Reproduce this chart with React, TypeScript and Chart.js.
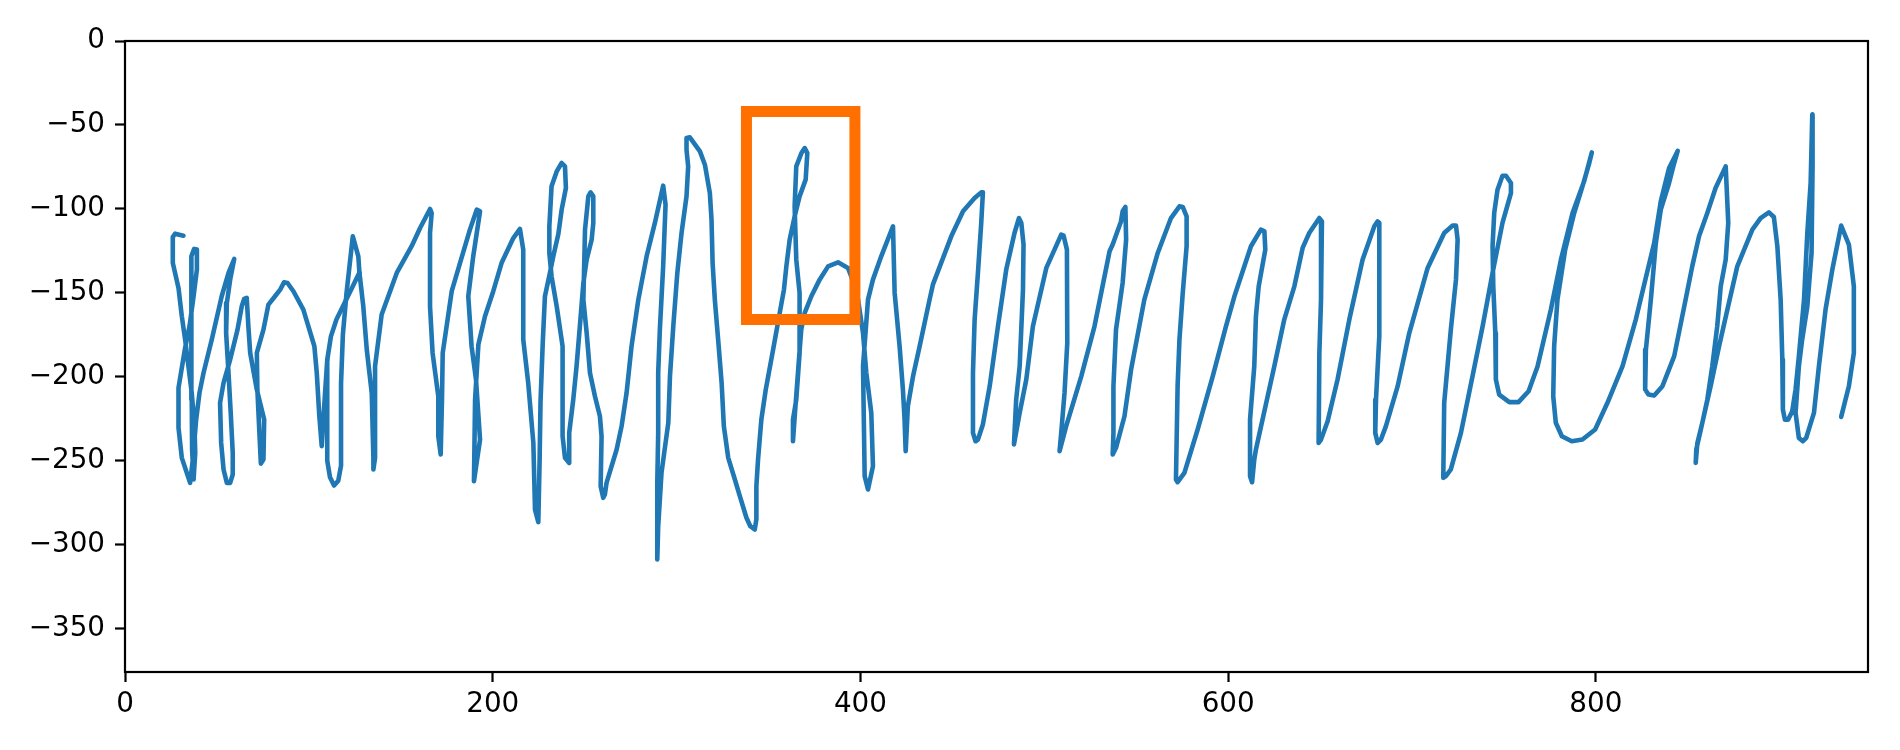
import React, { useEffect, useRef } from "react";
import { Chart, registerables } from "chart.js";

Chart.register(...registerables);

// Axis limits and ticks
const X_MIN = 0;
const X_MAX = 948;
const Y_MIN = -376;
const Y_MAX = 0;
const X_STEP = 200;
const Y_STEP = 50;

// Trajectory as [x, y] pairs, in drawing order
const strokeA: [number, number][] = [
  [31.8, -116.0], [27.3, -114.8], [26.0, -116.8], [26.0, -132.3], [29.1, -147.2], [30.9, -164.0],
  [32.7, -177.9], [34.5, -193.8], [36.3, -209.7], [37.8, -229.5], [38.2, -245.4], [37.3, -261.3],
  [36.5, -243.4], [36.3, -213.7], [36.0, -185.9], [36.0, -154.1], [36.3, -128.3], [37.6, -123.9],
  [39.1, -124.3], [39.1, -136.2], [37.3, -152.1], [35.1, -170.0], [32.7, -182.9], [29.1, -206.7],
  [29.1, -230.5], [30.9, -248.4], [33.6, -257.3], [35.4, -263.3],
  [36.9, -249.4], [38.7, -225.6], [40.5, -209.7], [42.7, -197.8], [47.2, -177.9], [52.6, -152.1],
  [56.3, -138.2], [59.4, -129.9],
  [57.2, -142.2], [55.4, -156.1], [55.0, -174.0], [56.3, -197.8], [57.5, -221.6], [58.6, -245.4],
  [58.6, -258.3], [57.2, -263.3], [55.4, -263.3], [53.6, -255.3], [52.3, -239.5], [51.7, -215.6],
  [53.6, -203.7], [57.2, -189.8], [61.2, -172.0], [63.5, -158.1], [64.8, -153.7], [66.2, -153.1],
  [67.1, -170.0], [68.1, -185.9], [71.7, -207.7], [75.7, -225.6], [75.3, -249.4], [73.9, -251.8],
  [73.1, -233.5], [72.0, -207.7], [71.7, -185.9], [75.3, -172.0], [78.0, -157.1], [81.6, -152.1],
  [84.4, -148.1], [86.5, -143.8], [88.4, -144.2], [91.6, -149.1], [97.0, -160.1], [103.0, -181.9],
  [104.3, -197.8], [105.7, -223.6], [107.0, -241.4],
  [108.5, -215.0], [110.0, -190.0], [110.0, -250.0], [111.5, -260.0], [113.7, -264.9], [116.0, -262.0],
  [117.5, -253.0], [117.5, -204.0], [118.5, -175.0], [120.5, -150.0], [123.9, -116.4], [126.9, -128.3],
  [127.5, -138.0],
];

const strokeB: [number, number][] = [
  [129.6, -158.1], [131.5, -183.9], [134.2, -209.7], [135.1, -248.4], [135.1, -255.3], [136.0, -248.4],
  [136.0, -193.8], [139.6, -163.0], [147.8, -138.2], [155.9, -122.3], [160.5, -111.4], [165.9, -100.1],
  [166.8, -102.5], [165.9, -114.4], [165.9, -158.1], [167.3, -185.9], [170.4, -211.7], [170.4, -235.5],
  [171.7, -246.4], [172.4, -213.7], [172.8, -185.9], [177.7, -149.1], [182.2, -132.3], [187.6, -112.4],
  [191.3, -100.5], [193.1, -101.5], [189.4, -128.3], [186.7, -152.1], [188.5, -181.9], [190.9, -201.7],
  [193.1, -237.5], [189.8, -262.3], [190.4, -213.7], [192.2, -180.9], [195.8, -164.0], [200.3, -149.1],
  [204.8, -132.3], [211.2, -117.4], [214.8, -112.0], [216.6, -124.3], [216.6, -177.9], [219.3, -203.7],
  [222.1, -239.5], [223.0, -279.2], [224.8, -286.7], [225.5, -250.0], [226.0, -215.0], [227.2, -180.0],
  [228.4, -152.1], [231.1, -138.2], [233.0, -128.0], [235.7, -115.0], [237.5, -100.5], [239.8, -87.6],
  [239.3, -74.7], [237.5, -72.7], [234.8, -77.7], [232.0, -86.6], [230.8, -110.4], [230.8, -126.3],
  [232.0, -140.2], [234.8, -158.1], [238.0, -181.9], [238.0, -235.5], [239.3, -248.4], [241.6, -251.4],
  [241.6, -233.5], [243.8, -213.7], [245.6, -193.8], [247.4, -170.0], [249.3, -144.2], [251.1, -130.3],
  [253.8, -118.4], [254.7, -108.4], [254.7, -92.6], [253.2, -90.2], [252.0, -92.6], [250.2, -112.4],
  [249.3, -154.1], [251.1, -174.0], [252.9, -197.8], [255.6, -211.7], [258.3, -223.6], [259.2, -235.5],
  [258.7, -265.3], [260.1, -272.2], [261.0, -270.2], [261.9, -263.3], [267.4, -243.4], [270.1, -229.5],
  [272.8, -209.7], [275.5, -181.9], [279.2, -154.1], [283.7, -128.3], [288.2, -108.4], [292.7, -86.2],
  [294.0, -97.5], [292.7, -134.3], [290.9, -172.0], [290.0, -197.8], [290.0, -233.5], [289.5, -263.3],
  [289.5, -308.9], [290.0, -289.0], [291.8, -257.3], [295.5, -227.5], [296.4, -199.8], [298.2, -170.0],
  [300.4, -138.2], [302.7, -114.4], [305.4, -92.6], [306.3, -74.7], [305.4, -64.8], [305.4, -57.8],
  [307.2, -57.4], [312.7, -65.8], [315.4, -73.7], [318.1, -90.6], [319.0, -106.5], [319.6, -132.3],
  [320.8, -154.1], [322.6, -177.9], [324.5, -203.7], [325.7, -229.5], [328.1, -248.4], [331.7, -261.3],
  [334.4, -271.2],
];

const strokeC: [number, number][] = [
  [338.0, -284.1], [340.1, -289.1], [342.5, -291.1], [343.4, -285.1], [343.4, -265.3], [344.3, -249.4],
  [346.1, -225.6], [348.5, -207.7], [352.5, -183.9], [356.1, -162.0], [358.4, -148.1], [359.7, -134.3],
  [361.5, -118.4], [364.2, -104.5], [366.9, -92.6], [370.2, -82.6], [371.1, -66.8], [369.7, -63.8],
  [367.9, -66.8], [365.1, -74.7], [364.2, -98.5], [365.1, -130.3], [366.9, -150.1], [366.9, -185.9],
  [365.1, -213.7], [363.3, -225.6], [363.3, -238.5], [364.5, -220.0], [366.2, -195.0], [367.8, -172.0],
  [369.7, -162.0], [373.3, -152.1], [377.8, -142.2], [382.4, -134.3], [387.8, -131.9], [393.2, -135.2],
  [395.0, -140.2], [398.7, -154.1], [401.4, -174.0], [403.2, -197.8], [405.9, -221.6], [406.8, -253.4],
  [404.1, -267.2], [402.3, -259.3], [401.4, -193.8], [404.1, -154.1], [406.8, -142.2], [411.3, -128.3],
  [417.7, -110.4], [418.6, -150.1], [421.3, -181.9], [423.1, -207.7], [424.0, -225.6], [424.6, -244.4],
  [425.8, -217.6], [428.6, -199.8], [432.2, -181.9], [437.6, -154.1], [439.4, -145.2], [449.4, -116.4],
  [455.8, -101.5], [462.1, -93.6], [465.7, -90.2], [466.6, -90.2], [465.7, -108.4], [463.9, -138.2],
  [462.1, -166.0], [461.2, -197.8], [461.2, -233.5], [462.6, -238.5], [463.9, -237.5], [466.6, -228.5],
  [470.3, -205.7], [474.8, -170.0], [479.3, -136.2], [483.8, -114.4], [486.2, -105.5], [487.5, -108.4],
  [488.7, -121.3], [488.4, -148.1], [486.6, -193.8], [484.7, -213.7], [483.5, -240.4], [486.6, -221.6],
  [490.2, -201.7], [493.8, -170.0], [501.1, -135.2], [509.2, -115.4], [510.5, -116.0], [512.3, -124.3],
  [512.5, -179.9], [511.0, -209.7], [509.2, -233.5], [508.3, -244.4], [511.9, -229.5], [520.1, -199.8],
  [527.3, -170.0], [535.5, -125.3], [537.2, -121.3], [541.7, -107.5], [542.6, -101.5], [544.1, -98.9],
  [544.5, -118.4], [542.6, -144.2], [539.0, -172.0], [537.6, -205.7], [537.6, -233.5], [537.2, -246.4],
  [539.0, -242.4], [543.6, -223.6], [547.2, -195.8], [554.4, -154.1], [561.7, -126.3], [568.9, -105.5],
  [573.5, -98.5], [575.3, -98.9], [577.4, -104.5], [577.4, -122.3], [575.3, -150.1], [573.5, -177.9],
  [572.5, -205.7], [571.6, -261.3], [572.5, -262.9], [576.2, -257.3], [583.4, -231.5], [591.6, -199.8],
  [598.8, -170.0], [603.4, -152.1], [612.4, -122.3], [617.8, -112.4], [619.7, -113.4], [620.2, -124.3],
  [616.6, -146.2], [615.1, -164.0], [614.2, -193.8], [611.9, -225.6], [611.9, -259.3], [613.0, -262.9],
  [614.2, -249.4], [615.1, -243.4], [625.1, -193.8], [630.5, -166.0], [636.0, -146.2], [640.5, -123.3],
  [644.1, -114.4],
];

const strokeD: [number, number][] = [
  [649.6, -105.5], [651.0, -107.5], [650.5, -154.1], [649.6, -185.9], [649.2, -239.5], [650.5, -237.5],
  [654.1, -226.6], [659.5, -201.7], [665.9, -166.0], [673.1, -130.3], [679.5, -110.4], [681.3, -107.5],
  [682.2, -108.4], [682.2, -175.9], [680.4, -213.7], [680.0, -233.5], [681.3, -239.5], [683.1, -237.5],
  [685.8, -229.5], [692.2, -205.7], [698.5, -174.0], [708.5, -135.2], [717.5, -114.4], [722.1, -110.0],
  [723.9, -110.0], [724.8, -118.4], [723.9, -142.2], [721.1, -172.0], [719.3, -193.8], [717.5, -215.6],
  [717.0, -260.3], [718.4, -259.3], [721.1, -255.3], [726.6, -233.5], [732.9, -199.8], [738.4, -170.0],
  [743.8, -138.2], [749.2, -108.4], [753.8, -90.6], [753.8, -84.6], [751.1, -80.3], [749.2, -80.3],
  [746.5, -88.6], [744.7, -102.5], [743.8, -122.3], [744.2, -146.2], [745.3, -174.0], [745.6, -201.7],
  [747.4, -210.7], [752.9, -215.2], [757.9, -215.2], [763.4, -208.7], [768.3, -193.8], [775.5, -160.1],
  [781.0, -130.3], [787.3, -102.5], [793.6, -83.6], [797.8, -66.4], [796.4, -72.7], [792.7, -86.6],
  [788.2, -102.5], [783.3, -124.3], [779.1, -154.1], [777.3, -181.9], [776.8, -211.7], [778.2, -227.5],
  [781.5, -235.5], [786.9, -238.5], [792.7, -237.5], [799.6, -231.5], [806.3, -215.6], [814.5, -193.8],
  [821.7, -166.0], [831.7, -120.4], [835.3, -95.5], [839.8, -75.7], [844.5, -65.5], [842.6, -72.7],
  [839.8, -84.6], [835.3, -100.5], [832.6, -120.4], [829.9, -154.1], [827.2, -183.9], [826.8, -207.7],
  [828.6, -210.7], [831.7, -211.3], [836.2, -205.7], [842.6, -187.8], [848.8, -154.1], [852.4, -134.3],
  [856.1, -116.4], [860.6, -102.5], [865.1, -87.6], [870.6, -74.7], [872.0, -108.4], [870.6, -130.3],
  [867.9, -146.2], [866.0, -170.0], [863.3, -193.8], [860.6, -213.7], [857.9, -227.5], [854.6, -243.4],
  [854.3, -251.4], [855.2, -239.5], [857.9, -227.5], [862.4, -205.7], [867.0, -181.9], [871.5, -160.1],
  [876.9, -134.3], [885.1, -112.4], [889.6, -105.5], [894.1, -102.1], [896.8, -104.9], [898.7, -122.3],
  [900.5, -154.1], [901.4, -189.8], [901.7, -219.6], [902.8, -225.6], [904.6, -225.6], [906.8, -220.6],
  [908.6, -207.7], [910.4, -187.8], [913.2, -154.1], [915.0, -114.4], [916.8, -84.6], [917.7, -43.9],
  [918.0, -44.9], [917.7, -74.7], [917.3, -126.3], [915.0, -158.1], [912.2, -177.9], [910.4, -193.8],
  [908.6, -221.6], [910.4, -236.5], [912.6, -238.5], [914.4, -236.5], [918.6, -221.6], [921.3, -193.8],
  [924.9, -160.1], [928.6, -136.2], [933.4, -110.0], [937.6, -121.3], [940.3, -146.2], [940.3, -185.9],
  [937.6, -205.7], [933.4, -224.0],
];

// Short connecting stroke near x = 110..128
const hookStroke: [number, number][] = [
  [110.0, -190.0], [112.0, -176.0], [115.0, -166.0], [119.0, -157.0], [123.5, -147.0], [127.5, -138.0],
];

// Highlight rectangle corners (data units)
const boxX = [338, 397, 397, 338, 338];
const boxY = [-42, -42, -166, -166, -42];

const TICK_FONT = { family: "'DejaVu Sans', sans-serif", size: 27.8 };
const fmt = (v: number) => (v < 0 ? "\u2212" + Math.abs(v) : String(v));

const framePlugin = {
  id: "frame",
  afterDatasetsDraw(chart: any) {
    const { ctx, chartArea } = chart;
    ctx.save();
    ctx.strokeStyle = "#000";
    ctx.lineWidth = 2.2;
    ctx.strokeRect(chartArea.left, chartArea.top, chartArea.right - chartArea.left, chartArea.bottom - chartArea.top);
    ctx.restore();
  },
};

export default function App() {
  const ref = useRef<HTMLCanvasElement>(null);
  useEffect(() => {
    const canvas = ref.current;
    if (!canvas) return;
    const toPts = (arr: [number, number][]) => arr.map(([x, y]) => ({ x, y }));
    const mainPath = [...strokeA, ...strokeB, ...strokeC, ...strokeD];
    const boxPts = boxX.map((x, i) => ({ x, y: boxY[i] }));
    const lineStyle = {
      showLine: true,
      borderColor: "#1f77b4",
      borderWidth: 4.6,
      pointRadius: 0,
      pointHoverRadius: 0,
      borderJoinStyle: "round" as const,
      borderCapStyle: "round" as const,
      tension: 0,
      fill: false,
    };
    const chart = new Chart(canvas, {
      type: "scatter",
      data: {
        datasets: [
          {
            data: boxPts,
            showLine: true,
            borderColor: "#ff7000",
            borderWidth: 11,
            pointRadius: 0,
            pointHoverRadius: 0,
            borderJoinStyle: "miter",
            borderCapStyle: "square",
            tension: 0,
            fill: false,
          },
          { data: toPts(mainPath), ...lineStyle },
          { data: toPts(hookStroke), ...lineStyle },
        ],
      },
      options: {
        responsive: false,
        animation: false,
        devicePixelRatio: 1,
        events: [],
        plugins: { legend: { display: false }, tooltip: { enabled: false } },
        layout: { padding: { left: 0, right: 32, top: 41, bottom: 0 } },
        scales: {
          x: {
            type: "linear",
            min: X_MIN,
            max: X_MAX,
            afterFit: (s: any) => {
              s.height = 78;
            },
            ticks: {
              stepSize: X_STEP,
              includeBounds: false,
              autoSkip: false,
              maxRotation: 0,
              padding: 6,
              color: "#000",
              font: TICK_FONT,
              callback: (v: any) => fmt(Number(v)),
            },
            grid: {
              display: true,
              drawOnChartArea: false,
              drawTicks: true,
              tickLength: 10,
              tickWidth: 2.2,
              tickColor: "#000",
            },
            border: { display: false },
          },
          y: {
            type: "linear",
            min: Y_MIN,
            max: Y_MAX,
            afterFit: (s: any) => {
              s.width = 125;
            },
            ticks: {
              stepSize: Y_STEP,
              includeBounds: false,
              autoSkip: false,
              padding: 10,
              color: "#000",
              font: TICK_FONT,
              callback: (v: any) => fmt(Number(v)),
            },
            grid: {
              display: true,
              drawOnChartArea: false,
              drawTicks: true,
              tickLength: 10,
              tickWidth: 2.2,
              tickColor: "#000",
            },
            border: { display: false },
          },
        },
      },
      plugins: [framePlugin],
    });
    return () => chart.destroy();
  }, []);
  return (
    <canvas
      ref={ref}
      width={1900}
      height={750}
      style={{ position: "fixed", left: 0, top: 0, width: 1900, height: 750, background: "#fff" }}
    />
  );
}
